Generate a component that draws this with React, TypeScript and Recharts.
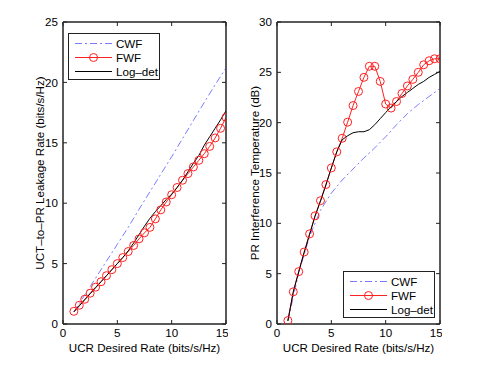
import { LineChart, Line, XAxis, YAxis, Legend, ReferenceArea } from 'recharts';

const FONT = '"Liberation Sans", Arial, Helvetica, sans-serif';
const FS = 11.6;

// x positions used by the simulations
const X_HALF = [1, 1.5, 2, 2.5, 3, 3.5, 4, 4.5, 5, 5.5, 6, 6.5, 7, 7.5, 8, 8.5, 9, 9.5, 10, 10.5, 11, 11.5, 12, 12.5, 13, 13.5, 14, 14.5, 15];
const X_INT = [1, 2, 3, 4, 5, 6, 7, 8, 9, 10, 11, 12, 13, 14, 15];
const X_TICKS = [0, 5, 10, 15];
const LEFT_Y_TICKS = [0, 5, 10, 15, 20, 25];
const RIGHT_Y_TICKS = [0, 5, 10, 15, 20, 25, 30];

const SERIES = ['CWF', 'FWF', 'Log–det'];

// left panel: UCT-to-PR leakage rate
const LEFT_CWF = [1.0, 2.4, 3.8, 5.2, 6.6, 8.0, 9.5, 10.95, 12.4, 13.85, 15.35, 16.85, 18.35, 19.8, 21.2];
const LEFT_FWF = [1.05, 1.55, 2.05, 2.55, 3.05, 3.5, 4.0, 4.5, 5.0, 5.5, 6.0, 6.5, 7.05, 7.55, 8.0, 8.7, 9.45, 10.1, 10.7, 11.3, 11.9, 12.45, 13.0, 13.55, 14.1, 14.7, 15.4, 16.2, 17.1];
const LEFT_LOGDET = [1.0, 1.5, 2.0, 2.5, 3.0, 3.5, 4.0, 4.5, 5.0, 5.5, 6.05, 6.7, 7.4, 8.1, 8.75, 9.3, 9.8, 10.3, 10.75, 11.3, 11.9, 12.6, 13.3, 13.95, 14.8, 15.5, 16.2, 16.9, 17.65];

// right panel: PR interference temperature
const RIGHT_CWF = [0.3, 5.1, 8.7, 11.3, 13.0, 14.3, 15.4, 16.5, 17.5, 18.6, 19.8, 20.9, 21.8, 22.6, 23.4];
const RIGHT_FWF = [0.34, 3.2, 5.2, 7.15, 8.95, 10.75, 12.25, 13.85, 15.5, 17.1, 18.45, 20.05, 21.7, 23.1, 24.5, 25.6, 25.6, 24.1, 21.85, 21.45, 22.1, 22.9, 23.65, 24.3, 25.0, 25.75, 26.15, 26.35, 26.35];
const RIGHT_LOGDET = [0.3, 3.2, 5.2, 7.1, 8.9, 10.7, 12.2, 13.8, 15.5, 17.1, 18.3, 18.7, 19.0, 19.1, 19.1, 19.3, 19.8, 20.4, 21.0, 21.6, 22.1, 22.6, 23.0, 23.4, 23.8, 24.1, 24.5, 24.8, 25.1];

const rows = (xs: number[], ys: number[]) => xs.map((x, i) => ({ x, y: ys[i] }));

const CWF_COLOR = '#7a7cff';
const FWF_COLOR = '#ff2020';
const AXIS_COLOR = '#222';
const tick = { fontSize: FS, fill: '#000', fontFamily: FONT };
const labelStyle = { fontSize: FS, fill: '#000', fontFamily: FONT };
const axisLine = { stroke: AXIS_COLOR, strokeWidth: 1 };
const tickLine = { stroke: AXIS_COLOR, strokeWidth: 1 };

function LegendBox() {
  return (
    <div
      style={{
        border: `1px solid ${AXIS_COLOR}`,
        background: '#fff',
        width: 92,
        height: 47,
        paddingTop: 2,
        boxSizing: 'border-box',
        fontFamily: FONT,
        fontSize: FS,
        color: '#000',
      }}
    >
      {SERIES.map((name, i) => (
        <div key={name} style={{ display: 'flex', alignItems: 'center', height: 14 }}>
          <svg width={45} height={13}>
            <line
              x1={6}
              x2={43}
              y1={6.5}
              y2={6.5}
              stroke={i === 0 ? CWF_COLOR : i === 1 ? FWF_COLOR : '#000'}
              strokeDasharray={i === 0 ? '7 3 2 3' : undefined}
            />
            {i === 1 && <circle cx={24.5} cy={6.5} r={4} fill="none" stroke={FWF_COLOR} />}
          </svg>
          <span style={{ marginLeft: 2, lineHeight: '13px' }}>{name}</span>
        </div>
      ))}
    </div>
  );
}

function Panel({
  cwf,
  fwf,
  logdet,
  yMax,
  yTicks,
  yLabel,
  marginLeft,
  yLabelOffset,
  legendPos,
}: {
  cwf: number[];
  fwf: number[];
  logdet: number[];
  yMax: number;
  yTicks: number[];
  yLabel: string;
  marginLeft: number;
  yLabelOffset: number;
  legendPos: { left: number; top: number };
}) {
  return (
    <LineChart
      width={marginLeft + 30 + 163 + 2}
      height={365}
      margin={{ top: 21, right: 1, bottom: 7, left: marginLeft }}
    >
      <XAxis
        dataKey="x"
        type="number"
        domain={[0, 15]}
        ticks={X_TICKS}
        allowDataOverflow
        height={34}
        axisLine={axisLine}
        tickLine={tickLine}
        tick={tick}
        tickSize={-4}
        tickMargin={9}
        label={{
          value: 'UCR Desired Rate (bits/s/Hz)',
          position: 'insideBottom',
          offset: 6,
          style: labelStyle,
        }}
      />
      <XAxis
        xAxisId="top"
        dataKey="x"
        orientation="top"
        type="number"
        domain={[0, 15]}
        ticks={X_TICKS}
        allowDataOverflow
        height={1}
        axisLine={axisLine}
        tickLine={tickLine}
        tickSize={-4}
        tickFormatter={() => ''}
      />
      <YAxis
        type="number"
        domain={[0, yMax]}
        ticks={yTicks}
        allowDataOverflow
        width={30}
        axisLine={axisLine}
        tickLine={tickLine}
        tick={tick}
        tickSize={-4}
        tickMargin={9}
        label={{
          value: yLabel,
          angle: -90,
          position: 'insideLeft',
          offset: yLabelOffset,
          style: { ...labelStyle, textAnchor: 'middle' },
        }}
      />
      <YAxis
        yAxisId="right"
        orientation="right"
        type="number"
        domain={[0, yMax]}
        ticks={yTicks}
        allowDataOverflow
        width={1}
        axisLine={axisLine}
        tickLine={tickLine}
        tickSize={-4}
        tickFormatter={() => ''}
      />
      {/* plot frame (box on) */}
      <ReferenceArea
        x1={0}
        x2={15}
        y1={0}
        y2={yMax}
        fill="none"
        fillOpacity={0}
        stroke={AXIS_COLOR}
        strokeWidth={1}
        ifOverflow="visible"
      />
      <Line
        data={rows(X_INT, cwf)}
        dataKey="y"
        type="linear"
        stroke={CWF_COLOR}
        strokeWidth={1}
        strokeDasharray="7 3 2 3"
        dot={false}
        isAnimationActive={false}
      />
      <Line
        data={rows(X_HALF, fwf)}
        dataKey="y"
        type="linear"
        stroke={FWF_COLOR}
        strokeWidth={1}
        dot={{ r: 4, fill: 'none', stroke: FWF_COLOR, strokeWidth: 1 }}
        isAnimationActive={false}
      />
      <Line
        data={rows(X_HALF, logdet)}
        dataKey="y"
        type="linear"
        stroke="#000"
        strokeWidth={1}
        dot={false}
        isAnimationActive={false}
      />
      {/* invisible copy so the top/right frame axes get drawn */}
      <Line
        xAxisId="top"
        yAxisId="right"
        data={rows(X_HALF, logdet)}
        dataKey="y"
        stroke="none"
        dot={false}
        legendType="none"
        isAnimationActive={false}
      />
      <Legend
        layout="horizontal"
        verticalAlign="middle"
        align="center"
        content={() => <LegendBox />}
        wrapperStyle={{ left: legendPos.left, top: legendPos.top, width: 92, height: 47 }}
      />
    </LineChart>
  );
}

export default function App() {
  return (
    <div style={{ position: 'absolute', left: 0, top: 0, width: 485, height: 365, background: '#fff' }}>
      <div style={{ position: 'absolute', left: 0, top: 0 }}>
        <Panel
          cwf={LEFT_CWF}
          fwf={LEFT_FWF}
          logdet={LEFT_LOGDET}
          yMax={25}
          yTicks={LEFT_Y_TICKS}
          yLabel="UCT–to–PR Leakage Rate (bits/s/Hz)"
          marginLeft={33}
          yLabelOffset={7}
          legendPos={{ left: 68, top: 33 }}
        />
      </div>
      <div style={{ position: 'absolute', left: 240, top: 0 }}>
        <Panel
          cwf={RIGHT_CWF}
          fwf={RIGHT_FWF}
          logdet={RIGHT_LOGDET}
          yMax={30}
          yTicks={RIGHT_Y_TICKS}
          yLabel="PR Interference Temperature (dB)"
          marginLeft={7}
          yLabelOffset={8}
          legendPos={{ left: 103, top: 271 }}
        />
      </div>
    </div>
  );
}
